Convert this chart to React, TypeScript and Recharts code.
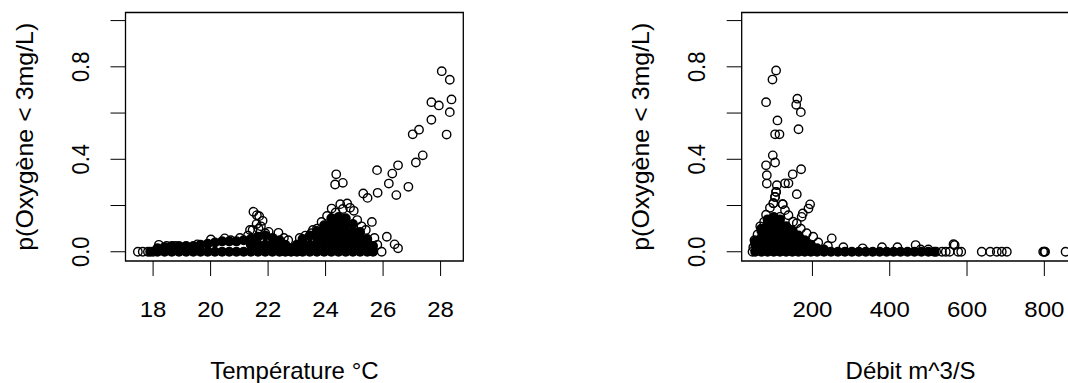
import { ScatterChart, Scatter, XAxis, YAxis, ReferenceArea, Label } from 'recharts';

const FONT = '"Liberation Sans", Arial, sans-serif';

// Température °C -> p(Oxygène < 3mg/L), single readable points
const tempPoints: [number, number][] = [
  [17.47, 0], [17.64, 0], [17.82, 0], [18.0, 0], [18.2, 0.03], [18.47, 0.025], [18.77, 0.025],
  [19.12, 0.022], [19.54, 0.032], [20.01, 0.053], [20.49, 0.058], [20.7, 0.05], [21.02, 0.06],
  [21.3, 0.07], [21.37, 0.094], [21.46, 0.094], [21.67, 0.1], [21.9, 0.08], [22.02, 0.086],
  [22.36, 0.082], [22.55, 0.06], [22.7, 0.05], [23.1, 0.06], [23.3, 0.07],
  [21.49, 0.173], [21.61, 0.158], [21.69, 0.154], [21.81, 0.134], [21.6, 0.12], [21.75, 0.11],
  [23.5, 0.08], [23.56, 0.094], [23.7, 0.1], [23.86, 0.129], [24.05, 0.155], [24.21, 0.187],
  [24.35, 0.17], [24.51, 0.206], [24.6, 0.185], [24.75, 0.209], [24.85, 0.19], [24.98, 0.177],
  [25.1, 0.137], [25.25, 0.11], [25.4, 0.094], [25.61, 0.129], [25.7, 0.06], [25.8, 0.03], [25.95, 0],
  [24.37, 0.335], [24.33, 0.291], [24.6, 0.298], [25.31, 0.252], [25.46, 0.233], [25.79, 0.353],
  [25.81, 0.255], [26.13, 0.065], [26.4, 0.032], [26.52, 0.015], [26.2, 0.295], [26.32, 0.338],
  [26.46, 0.245], [26.52, 0.374], [26.88, 0.281], [27.03, 0.508], [27.14, 0.386], [27.25, 0.528],
  [27.38, 0.417], [27.68, 0.571], [27.68, 0.647], [27.94, 0.633], [28.04, 0.781], [28.21, 0.507],
  [28.32, 0.744], [28.32, 0.604], [28.38, 0.659],
];

// Température °C: the overlapping mass of points near zero
const tempDense: [number, number][] = [
  [17.9, 0],
  [18.15, 0], [18.15, 0.015], [18.4, 0], [18.4, 0.02], [18.65, 0], [18.65, 0.025],
  [18.9, 0], [18.9, 0.025], [19.15, 0], [19.15, 0.025], [19.4, 0], [19.4, 0.025],
  [19.65, 0], [19.65, 0.03], [19.9, 0], [19.9, 0.035], [20.15, 0], [20.15, 0.04],
  [20.4, 0], [20.4, 0.045], [20.65, 0], [20.65, 0.045], [20.9, 0], [20.9, 0.045],
  [21.15, 0], [21.15, 0.05], [21.4, 0], [21.4, 0.03], [21.4, 0.055],
  [21.65, 0], [21.65, 0.03], [21.65, 0.065], [21.9, 0], [21.9, 0.03], [21.9, 0.07],
  [22.15, 0], [22.15, 0.03], [22.15, 0.06], [22.4, 0], [22.4, 0.03], [22.4, 0.05],
  [22.6, 0], [22.6, 0.03], [22.8, 0], [22.8, 0.015], [23.0, 0], [23.0, 0.03],
  [23.2, 0], [23.2, 0.03], [23.2, 0.055], [23.45, 0], [23.45, 0.03], [23.45, 0.07],
  [23.7, 0], [23.7, 0.03], [23.7, 0.06], [23.7, 0.09],
  [23.95, 0], [23.95, 0.03], [23.95, 0.06], [23.95, 0.09], [23.95, 0.115],
  [24.2, 0], [24.2, 0.03], [24.2, 0.06], [24.2, 0.09], [24.2, 0.12], [24.2, 0.145],
  [24.45, 0], [24.45, 0.03], [24.45, 0.06], [24.45, 0.09], [24.45, 0.12], [24.45, 0.15],
  [24.7, 0], [24.7, 0.03], [24.7, 0.06], [24.7, 0.09], [24.7, 0.12], [24.7, 0.145],
  [24.95, 0], [24.95, 0.03], [24.95, 0.06], [24.95, 0.09], [24.95, 0.12],
  [25.2, 0], [25.2, 0.03], [25.2, 0.06], [25.2, 0.085],
  [25.45, 0], [25.45, 0.03], [25.45, 0.055], [25.65, 0], [25.65, 0.025],
];

// Débit m^3/S -> p(Oxygène < 3mg/L), single readable points
const debitPoints: [number, number][] = [
  [45, 0], [47, 0.02], [50, 0.05], [58, 0.075], [65, 0.11], [75, 0.13], [80, 0.16], [90, 0.19],
  [99, 0.21], [106, 0.259], [103, 0.237], [123, 0.206], [116, 0.151], [129, 0.18], [138, 0.158],
  [150, 0.13], [159.5, 0.123], [172, 0.151], [175, 0.166], [189.7, 0.187], [194, 0.205],
  [170, 0.1], [185, 0.08], [202, 0.065], [215, 0.04], [250, 0.058], [240, 0.025], [280, 0.02],
  [330, 0.015], [380, 0.02], [420, 0.02], [467, 0.029], [480, 0.01], [500, 0.01], [520, 0],
  [535, 0], [545, 0], [555, 0], [565, 0.033], [568, 0.029], [577, 0], [585, 0],
  [638, 0], [660, 0], [677, 0], [690, 0], [703, 0], [797, 0], [800, 0], [802, 0], [855, 0],
  [106, 0.784], [96.6, 0.745], [80, 0.647], [161, 0.662], [158, 0.636], [170, 0.604],
  [109.5, 0.568], [103.4, 0.508], [114.7, 0.508], [164, 0.53], [97.4, 0.417], [103.4, 0.386],
  [80, 0.374], [170.7, 0.357], [149, 0.335], [82, 0.331], [82, 0.295], [108, 0.288],
  [129, 0.296], [138, 0.296], [159.5, 0.249], [106, 0.259], [103.4, 0.237], [123, 0.206],
  [99, 0.21],
];

// Débit m^3/S: the overlapping mass of points near zero
const debitDense: [number, number][] = [
  [52, 0], [52, 0.03], [52, 0.045],
  [68, 0], [68, 0.03], [68, 0.06], [68, 0.09], [68, 0.1],
  [84, 0], [84, 0.03], [84, 0.06], [84, 0.09], [84, 0.12], [84, 0.14],
  [100, 0], [100, 0.03], [100, 0.06], [100, 0.09], [100, 0.12], [100, 0.15],
  [116, 0], [116, 0.03], [116, 0.06], [116, 0.09], [116, 0.12], [116, 0.14],
  [132, 0], [132, 0.03], [132, 0.06], [132, 0.09], [132, 0.11],
  [148, 0], [148, 0.03], [148, 0.06], [148, 0.09],
  [164, 0], [164, 0.03], [164, 0.06], [164, 0.07],
  [180, 0], [180, 0.03], [180, 0.05], [196, 0], [196, 0.03], [212, 0], [212, 0.015],
  [230, 0], [230, 0.01], [248, 0], [266, 0], [284, 0], [302, 0], [320, 0], [338, 0],
  [356, 0], [374, 0], [392, 0], [410, 0], [428, 0], [446, 0], [464, 0], [482, 0],
  [500, 0], [515, 0],
];

const tempTicks = [18, 20, 22, 24, 26, 28];
const debitTicks = [200, 400, 600, 800];
const probTicks = [0, 0.2, 0.4, 0.6, 0.8, 1.0];
const probLabels = [0, 0.4, 0.8];

const Y_DOMAIN: [number, number] = [-0.04, 1.035];

const openDot = (p: any) => (
  <circle cx={p.cx} cy={p.cy} r={4.2} fill="none" stroke="#000" strokeWidth={1.4} />
);
const solidDot = (p: any) => <circle cx={p.cx} cy={p.cy} r={5} fill="#000" />;

const XTick = (props: any) => {
  const { x, y, payload } = props;
  return (
    <text
      transform={`translate(${x},${y}) scale(1.09,1)`}
      dy="0.71em"
      textAnchor="middle"
      fontSize={22}
      fontFamily={FONT}
      fill="#000"
    >
      {payload.value}
    </text>
  );
};

const ProbTick = (props: any) => {
  const { x, y, payload } = props;
  if (!probLabels.includes(payload.value)) return <g />;
  return (
    <text
      transform={`translate(${x - 21.5},${y}) scale(1.09,1) rotate(-90)`}
      textAnchor="middle"
      fontSize={22}
      fontFamily={FONT}
      fill="#000"
    >
      {payload.value.toFixed(1)}
    </text>
  );
};

type PanelProps = {
  left: number;
  width: number;
  axisWidth: number;
  rightMargin: number;
  xDomain: [number, number];
  xTicks: number[];
  xTitle: string;
  points: [number, number][];
  dense: [number, number][];
};

function Panel({ left, width, axisWidth, rightMargin, xDomain, xTicks, xTitle, points, dense }: PanelProps) {
  const toXY = (arr: [number, number][]) => arr.map(([x, y]) => ({ x, y }));
  return (
    <div style={{ position: 'absolute', left, top: 0 }}>
      <ScatterChart width={width} height={383} margin={{ top: 12.5, right: rightMargin, bottom: 0, left: 0 }}>
        <XAxis
          type="number"
          dataKey="x"
          domain={xDomain}
          ticks={xTicks}
          interval={0}
          allowDataOverflow
          axisLine={false}
          stroke="#000"
          tickSize={15}
          tickMargin={25.7}
          height={122}
          tick={<XTick />}
        >
          <Label
            content={(lp: any) => {
              const vb = lp.viewBox;
              return (
                <text x={vb.x + vb.width / 2} y={vb.y + 118} textAnchor="middle" fontSize={24} fontFamily={FONT} fill="#000">
                  {xTitle}
                </text>
              );
            }}
          />
        </XAxis>
        <YAxis
          type="number"
          dataKey="y"
          domain={Y_DOMAIN}
          ticks={probTicks}
          interval={0}
          allowDataOverflow
          axisLine={false}
          stroke="#000"
          tickSize={15}
          tickMargin={0}
          width={axisWidth}
          tick={<ProbTick />}
        >
          <Label
            content={(lp: any) => {
              const vb = lp.viewBox;
              const bx = vb.x + vb.width - 93;
              const by = vb.y + vb.height / 2;
              return (
                <text
                  transform={`translate(${bx},${by}) scale(1,1.04) rotate(-90)`}
                  textAnchor="middle"
                  fontSize={24}
                  fontFamily={FONT}
                  fill="#000"
                >
                  p(Oxygène &lt; 3mg/L)
                </text>
              );
            }}
          />
        </YAxis>
        <ReferenceArea
          x1={xDomain[0]}
          x2={xDomain[1]}
          y1={Y_DOMAIN[0]}
          y2={Y_DOMAIN[1]}
          fill="none"
          stroke="#000"
          strokeWidth={1.3}
          ifOverflow="visible"
        />
        <Scatter data={toXY(dense)} shape={solidDot} isAnimationActive={false} />
        <Scatter data={toXY(points)} shape={openDot} isAnimationActive={false} />
      </ScatterChart>
    </div>
  );
}

export default function App() {
  return (
    <div style={{ position: 'fixed', left: 0, top: 0, width: 1068, height: 383, overflow: 'hidden', background: '#fff' }}>
      <Panel
        left={0}
        width={534}
        axisWidth={125.5}
        rightMargin={70.7}
        xDomain={[17.04, 28.79]}
        xTicks={tempTicks}
        xTitle="Température °C"
        points={tempPoints}
        dense={tempDense}
      />
      <Panel
        left={534}
        width={560}
        axisWidth={207.7}
        rightMargin={14.5}
        xDomain={[17, 891]}
        xTicks={debitTicks}
        xTitle="Débit m^3/S"
        points={debitPoints}
        dense={debitDense}
      />
    </div>
  );
}
